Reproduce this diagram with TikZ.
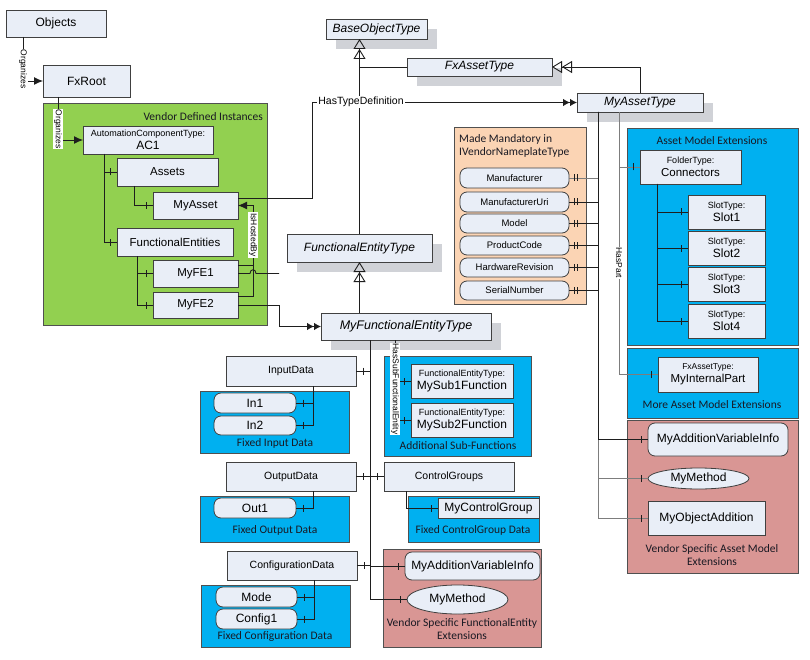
\documentclass[tikz,border=0pt]{standalone}
\usepackage{fontspec}
\setmainfont{Liberation Sans}
\newfontfamily\calfont{Carlito}
\usetikzlibrary{arrows.meta,shapes.geometric,decorations.markings,shadows}
\definecolor{nodec}{RGB}{233,238,247}
\definecolor{bordc}{RGB}{64,64,64}
\definecolor{linec}{RGB}{30,30,30}
\definecolor{grayl}{RGB}{125,125,125}
\definecolor{greenc}{RGB}{146,208,80}
\definecolor{bluec}{RGB}{0,176,240}
\definecolor{pinkc}{RGB}{217,150,148}
\definecolor{peachc}{RGB}{251,212,180}
\definecolor{shadc}{RGB}{208,210,215}
\definecolor{contb}{RGB}{80,80,80}
\definecolor{ttlc}{RGB}{25,25,35}
\newcommand\fA{\fontsize{8.5}{10}\selectfont}
\newcommand\fB{\fontsize{9}{10.5}\selectfont}
\newcommand\fP{\fontsize{9.5}{11}\selectfont}
\newcommand\fC{\fontsize{10.5}{12.5}\selectfont}
\newcommand\fD{\fontsize{11.5}{13.5}\selectfont}
\newcommand\fE{\fontsize{12}{14}\selectfont}
\newcommand\mybox[7][]{\node[#1,minimum width={(#5-#3)*1pt},minimum height={(#6-#4)*1pt}] (#2) at ({(#3+#5)/2},{(#4+#6)/2}) {#7};}
\tikzset{
  nbox/.style={draw=bordc, fill=nodec, line width=0.8pt, inner sep=0pt, outer sep=0pt, align=center, font=\fD},
  tbox/.style={nbox, font=\fE\itshape, drop shadow={shadow xshift=10pt,shadow yshift=-10pt,fill=shadc,opacity=1,draw=none}},
  rbox/.style={nbox, rounded corners=7pt, font=\fE},
  pbox/.style={nbox, rounded corners=7pt, font=\fP},
  ebox/.style={nbox, ellipse, font=\fE},
  area/.style={draw=contb, line width=0.6pt, inner sep=0pt, outer sep=0pt},
  ttl/.style={font=\calfont\fD, text=ttlc, inner sep=0pt},
  lbl/.style={fill=white, inner sep=1pt, font=\fA},
  cn/.style={draw=linec, line width=0.9pt},
  cng/.style={draw=grayl, line width=0.9pt},
  hc/.style={postaction={decorate,decoration={markings,mark=at position 1 with {\draw[line width=0.8pt,linec] (-7pt,-3.5pt) -- (-7pt,3.5pt);}}}},
  hp/.style={postaction={decorate,decoration={markings,mark=at position 1 with {\draw[line width=0.8pt,linec] (-5pt,-3.5pt) -- (-5pt,3.5pt) (-8.5pt,-3.5pt) -- (-8.5pt,3.5pt);}}}},
  td/.style={-{Latex[length=7pt,width=7.5pt]Latex[length=7pt,width=7.5pt]}},
  st/.style={-{Triangle[open,length=10pt,width=12pt,line width=0.9pt]Triangle[open,length=10pt,width=12pt,line width=0.9pt]}},
  ar/.style={-{Latex[length=9pt,width=8pt]}}
}
\begin{document}
\begin{tikzpicture}[x=1pt,y=-1pt]
\fill[white] (0,0) rectangle (810,660);
\useasboundingbox (0,0) rectangle (810,660);
% containers
\mybox[area,fill=greenc]{gVDI}{43}{103}{267}{325}{}
\mybox[area,fill=peachc]{pMand}{454}{127}{586}{304}{}
\mybox[area,fill=bluec]{bAME}{627}{128}{798}{345}{}
\mybox[area,fill=bluec]{bMAME}{627}{348}{798}{418}{}
\mybox[area,fill=pinkc]{pVSAME}{627}{420}{798}{573}{}
\mybox[area,fill=bluec]{bFID}{200}{391}{349}{453}{}
\mybox[area,fill=bluec]{bASF}{384}{356}{531}{456}{}
\mybox[area,fill=bluec]{bFOD}{200}{496}{349}{542}{}
\mybox[area,fill=bluec]{bFCGD}{408}{496}{539}{542}{}
\mybox[area,fill=bluec]{bFCD}{201}{585}{350}{647}{}
\mybox[area,fill=pinkc]{pVSFE}{383}{549}{541}{647}{}
% titles
\node[ttl,anchor=east] (tVDI) at (263,117) {Vendor Defined Instances};
\node[ttl,anchor=north west,align=left] (tMand) at (459,134) {Made Mandatory in\\IVendorNameplateType};
\node[ttl] (tAME) at (712,141) {Asset Model Extensions};
\node[ttl] (tMAME) at (712,405) {More Asset Model Extensions};
\node[ttl,align=center] (tVSAME) at (712,555) {Vendor Specific Asset Model\\Extensions};
\node[ttl] (tFID) at (275,443) {Fixed Input Data};
\node[ttl] (tASF) at (458,446) {Additional Sub-Functions};
\node[ttl] (tFOD) at (275,530) {Fixed Output Data};
\node[ttl] (tFCGD) at (473,530) {Fixed ControlGroup Data};
\node[ttl] (tFCD) at (275,636) {Fixed Configuration Data};
\node[ttl,align=center] (tVSFE) at (462,629) {Vendor Specific FunctionalEntity\\Extensions};
% instance nodes
\mybox[nbox,font=\fE]{Objects}{6}{10}{106}{37}{Objects}
\mybox[nbox,font=\fE]{FxRoot}{43}{65}{130}{97}{FxRoot}
\mybox[nbox]{AC1}{83}{126}{213}{154}{{\fB AutomationComponentType:}\\[-1pt]{\fE AC1}}
\mybox[nbox]{Assets}{117}{158}{218}{186}{Assets}
\mybox[nbox]{MyAsset}{153}{192}{238}{219}{MyAsset}
\mybox[nbox]{FuncEnt}{117}{228}{233}{256}{FunctionalEntities}
\mybox[nbox]{MyFE1}{153}{260}{238}{287}{MyFE1}
\mybox[nbox]{MyFE2}{153}{292}{238}{318}{MyFE2}
% type nodes
\mybox[tbox]{BaseObj}{326}{19}{427}{39}{BaseObjectType}
\mybox[tbox]{FxAssetT}{407}{58}{552}{76}{FxAssetType}
\mybox[tbox]{MyAssetT}{577}{93}{703}{112}{MyAssetType}
\mybox[tbox]{FuncEntT}{287}{234}{432}{262}{FunctionalEntityType}
\mybox[tbox,font=\fontsize{12.5}{14}\selectfont\itshape]{MyFuncEntT}{321}{313}{491}{340}{MyFunctionalEntityType}
% properties
\mybox[pbox]{pManu}{460}{168}{569}{188}{Manufacturer}
\mybox[pbox]{pManuUri}{460}{192}{569}{212}{ManufacturerUri}
\mybox[pbox]{pModel}{460}{214}{569}{233}{Model}
\mybox[pbox]{pProd}{460}{236}{569}{255}{ProductCode}
\mybox[pbox]{pHW}{460}{258}{569}{277}{HardwareRevision}
\mybox[pbox]{pSN}{460}{281}{569}{300}{SerialNumber}
% asset model extensions
\mybox[nbox]{Conn}{640}{150}{741}{184}{{\fB FolderType:}\\{\fD Connectors}}
\mybox[nbox]{Slot1}{688}{195}{765}{229}{{\fB SlotType:}\\{\fE Slot1}}
\mybox[nbox]{Slot2}{688}{231}{765}{265}{{\fB SlotType:}\\{\fE Slot2}}
\mybox[nbox]{Slot3}{688}{267}{765}{301}{{\fB SlotType:}\\{\fE Slot3}}
\mybox[nbox]{Slot4}{688}{304}{765}{338}{{\fB SlotType:}\\{\fE Slot4}}
\mybox[nbox]{MyIntPart}{658}{357}{758}{392}{{\fA FxAssetType:}\\{\fD MyInternalPart}}
\mybox[rbox]{MyAVI}{648}{423}{788}{456}{MyAdditionVariableInfo}
\mybox[ebox]{MyMeth}{648}{468}{749}{489}{MyMethod}
\mybox[nbox,font=\fE]{MyObjAdd}{648}{501}{765}{535}{MyObjectAddition}
% functional entity side
\mybox[nbox,font=\fC]{InData}{226}{356}{356}{386}{InputData}
\mybox[rbox]{In1}{214}{393}{296}{413}{In1}
\mybox[rbox]{In2}{214}{416}{296}{435}{In2}
\mybox[nbox]{Sub1}{411}{364}{513}{398}{{\fB FunctionalEntityType:}\\{\fE MySub1Function}}
\mybox[nbox]{Sub2}{411}{403}{513}{437}{{\fB FunctionalEntityType:}\\{\fE MySub2Function}}
\mybox[nbox,font=\fC]{OutData}{226}{462}{356}{491}{OutputData}
\mybox[rbox]{Out1}{214}{498}{296}{518}{Out1}
\mybox[nbox,font=\fC]{CtrlGr}{384}{462}{514}{491}{ControlGroups}
\mybox[nbox,font=\fE]{MyCG}{438}{498}{539}{518}{MyControlGroup}
\mybox[nbox,font=\fC]{ConfData}{227}{551}{357}{580}{ConfigurationData}
\mybox[rbox]{Mode}{216}{587}{297}{607}{Mode}
\mybox[rbox]{Config1}{216}{609}{297}{629}{Config1}
\mybox[rbox]{FEAVI}{405}{552}{540}{580}{MyAdditionVariableInfo}
\mybox[ebox]{FEMeth}{407}{585}{508}{614}{MyMethod}
% ---- connectors ----
\draw[cn,ar] ([xshift=17pt]Objects.south west) |- (FxRoot.west);
\draw[cn,ar] ([xshift=15pt]FxRoot.south west) |- (AC1.west);
\draw[cn,hc] ([xshift=21pt]AC1.south west) |- (Assets.west);
\draw[cn,hc] ([xshift=21pt]AC1.south west) |- (FuncEnt.west);
\draw[cn,hc] ([xshift=17pt]Assets.south west) |- (MyAsset.west);
\draw[cn,hc] ([xshift=20pt]FuncEnt.south west) |- (MyFE1.west);
\draw[cn,hc] ([xshift=20pt]FuncEnt.south west) |- (MyFE2.west);
% IsHostedBy
\coordinate (hbTop) at ([xshift=15pt]MyAsset.east);
\draw[cn,ar] ([yshift=9pt]MyFE2.east) -| (hbTop) -- (MyAsset.east);
\draw[cn] ([yshift=8.5pt]MyFE1.east) -| (hbTop);
% HasTypeDefinition of the functional entities
\draw[cn] (MyFE1.east) -- (250,273.5) .. controls (250,268.5) and (256,268.5) .. (256,273.5) -- (279,273.5);
\draw[cn,td] (MyFE2.east) -| ([xshift=-42pt]MyFuncEntT.west) -- (MyFuncEntT.west);
% HasTypeDefinition of MyAsset
\draw[cn,td] ([yshift=7.5pt]MyAsset.east) -- (312,198) |- (MyAssetT.west);
% subtypes
\draw[cn] (FxAssetT.west) -- (FxAssetT.west -| FuncEntT.north);
\draw[cn,st] (FuncEntT.north) -- (FuncEntT.north |- BaseObj.south);
\draw[cn,st] (MyAssetT.north) |- (FxAssetT.east);
\draw[cn,st] (MyFuncEntT.north -| FuncEntT.south) -- (FuncEntT.south);
% asset properties
\draw[cng,hp] ([xshift=21pt]MyAssetT.south west) |- (pManu.east);
\draw[cn,hp] ([xshift=21pt]MyAssetT.south west) |- (pManuUri.east);
\draw[cn,hp] ([xshift=21pt]MyAssetT.south west) |- (pModel.east);
\draw[cn,hp] ([xshift=21pt]MyAssetT.south west) |- (pProd.east);
\draw[cn,hp] ([xshift=21pt]MyAssetT.south west) |- (pHW.east);
\draw[cn,hp] ([xshift=21pt]MyAssetT.south west) |- (pSN.east);
\draw[cng,hc] ([xshift=21pt]MyAssetT.south west) |- (MyObjAdd.west);
\draw[cng,hc] ([xshift=21pt]MyAssetT.south west) |- (MyMeth.west);
\draw[cn,hc] ([xshift=21pt]MyAssetT.south west) |- (MyAVI.west);
\draw[cng,hc] ([xshift=42pt]MyAssetT.south west) |- (Conn.west);
\draw[cng,hc] ([xshift=42pt]MyAssetT.south west) |- (MyIntPart.west);
\draw[cn,hc] ([xshift=17pt]Conn.south west) |- (Slot1.west);
\draw[cn,hc] ([xshift=17pt]Conn.south west) |- (Slot2.west);
\draw[cn,hc] ([xshift=17pt]Conn.south west) |- (Slot3.west);
\draw[cn,hc] ([xshift=17pt]Conn.south west) |- (Slot4.west);
% functional entity components
\draw[cn,hc] ([xshift=49pt]MyFuncEntT.south west) |- (FEMeth.west);
\draw[cn,hc] ([xshift=49pt]MyFuncEntT.south west) |- (InData.east);
\draw[cn,hc] ([xshift=49pt]MyFuncEntT.south west) |- (OutData.east);
\draw[cn,hc] ([xshift=49pt]MyFuncEntT.south west) |- (CtrlGr.west);
\draw[cn,hc] ([xshift=49pt]MyFuncEntT.south west) |- (ConfData.east);
\draw[cn,hc] ([xshift=49pt]MyFuncEntT.south west) |- (FEAVI.west);
\draw[cn,hc] ([xshift=74pt]MyFuncEntT.south west) |- (Sub1.west);
\draw[cn,hc] ([xshift=74pt]MyFuncEntT.south west) |- (Sub2.west);
\draw[cn,hc] ([xshift=87pt]InData.south west) |- (In1.east);
\draw[cn,hc] ([xshift=87pt]InData.south west) |- (In2.east);
\draw[cn,hc] ([xshift=87pt]OutData.south west) |- (Out1.east);
\draw[cn,hc] ([xshift=22pt]CtrlGr.south west) |- (MyCG.west);
\draw[cn,hc] ([xshift=87pt]ConfData.south west) |- (Mode.east);
\draw[cn,hc] ([xshift=87pt]ConfData.south west) |- (Config1.east);
% labels
\node[lbl,rotate=-90] (lOrg1) at (23,69) {Organizes};
\node[lbl,rotate=-90] (lOrg2) at (58,129) {Organizes};
\node[lbl,rotate=-90] (lHost) at (253,235) {IsHostedBy};
\node[lbl,font=\fC] (lHTD) at (361,102) {HasTypeDefinition};
\node[lbl,rotate=-90] (lHasPart) at (619,263) {HasPart};
\node[lbl,rotate=-90] (lHSFE) at (395,389) {HasSubFunctionalEntity};
\end{tikzpicture}
\end{document}
